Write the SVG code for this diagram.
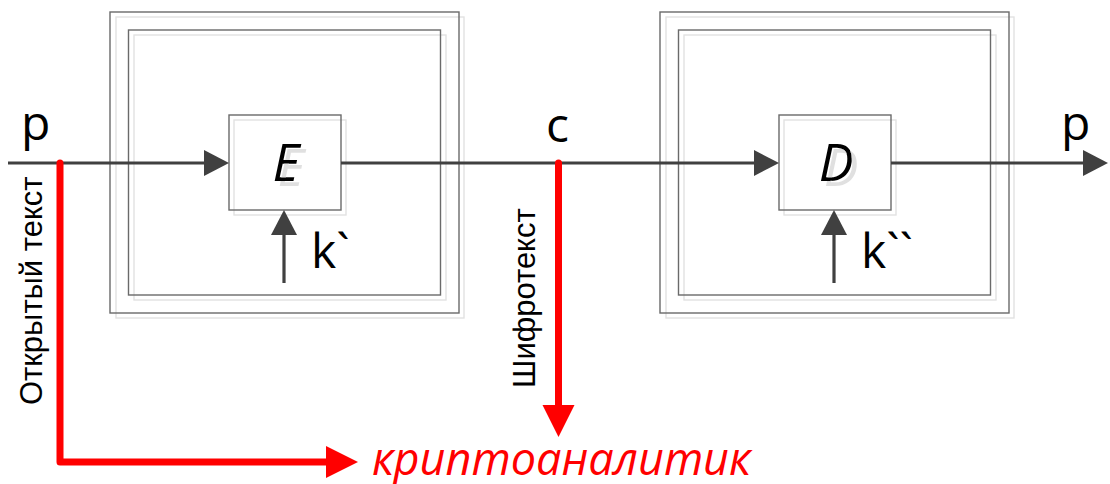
<svg xmlns="http://www.w3.org/2000/svg" width="1110" height="484" viewBox="0 0 1110 484">
  <style>
    .frame { fill: none; stroke: #6a6a6a; stroke-width: 1.4; }
    .shade { fill: none; stroke: #e2e2e2; stroke-width: 1.4; }
    .flow { fill: none; stroke: #404040; stroke-width: 3.2; }
    .leak { fill: none; stroke: #ff0000; stroke-width: 7; stroke-linejoin: round; stroke-linecap: round; }
    .lbl { font-family: "Open Sans", "Liberation Sans", sans-serif; font-size: 48px; fill: #000; }
    .op { font-family: "Open Sans", "Liberation Sans", sans-serif; font-size: 52px; font-style: italic; text-anchor: middle; fill: #000; filter: url(#ghost); }
    .side { font-family: "Liberation Sans", Arial, sans-serif; font-size: 31px; fill: #000; }
    .who { font-family: "Open Sans", "Liberation Sans", sans-serif; font-size: 45px; font-style: italic; fill: #ff0000; }
  </style>
  <defs>
    <!-- pale offset copy behind the operator letters -->
    <filter id="ghost" x="-20%" y="-20%" width="160%" height="160%">
      <feOffset in="SourceAlpha" dx="5" dy="5" result="off"/>
      <feFlood flood-color="#e0e0e0"/>
      <feComposite in2="off" operator="in" result="sh"/>
      <feMerge>
        <feMergeNode in="sh"/>
        <feMergeNode in="SourceGraphic"/>
      </feMerge>
    </filter>
    <marker id="dark" markerUnits="userSpaceOnUse" markerWidth="26" markerHeight="28" viewBox="0 0 26 28" refX="3" refY="13" orient="auto">
      <path d="M0,0 L25,13 L0,26 z" fill="#404040"/>
    </marker>
    <marker id="red" markerUnits="userSpaceOnUse" markerWidth="34" markerHeight="34" viewBox="0 0 34 34" refX="3" refY="16" orient="auto">
      <path d="M0,0 L32,16 L0,32 z" fill="#ff0000"/>
    </marker>
  </defs>

  <!-- encryption unit -->
  <g id="encryptor">
    <rect class="shade" x="116" y="17" width="348" height="301"/>
    <rect class="frame" x="110" y="12" width="349" height="301"/>
    <rect class="shade" x="134" y="35" width="312" height="265"/>
    <rect class="frame" x="128.5" y="30" width="312" height="265"/>
    <rect class="shade" x="234" y="120" width="112" height="95"/>
    <rect class="frame" x="229" y="115" width="112" height="95"/>
    <text class="op" x="286" y="181">E</text>
    <text class="lbl" x="311" y="268">k`</text>
  </g>

  <!-- decryption unit -->
  <g id="decryptor">
    <rect class="shade" x="666" y="17" width="348" height="301"/>
    <rect class="frame" x="660" y="12" width="349" height="301"/>
    <rect class="shade" x="684" y="35" width="312" height="265"/>
    <rect class="frame" x="678.5" y="30" width="312" height="265"/>
    <rect class="shade" x="784" y="120" width="112" height="95"/>
    <rect class="frame" x="779" y="115" width="112" height="95"/>
    <text class="op" x="836" y="181">D</text>
    <text class="lbl" x="861" y="268">k``</text>
  </g>

  <!-- channel labels -->
  <g id="labels">
    <text class="lbl" x="21" y="140">p</text>
    <text class="lbl" x="546" y="142">c</text>
    <text class="lbl" x="1061" y="140">p</text>
    <text class="side" transform="translate(42 405) rotate(-90)">Открытый текст</text>
    <text class="side" transform="translate(535 388) rotate(-90)">Шифротекст</text>
    <text class="who" x="372" y="475">криптоаналитик</text>
  </g>

  <!-- connectors -->
  <g id="connectors">
    <line class="flow" x1="8" y1="163" x2="207" y2="163" marker-end="url(#dark)"/>
    <line class="flow" x1="341" y1="163" x2="757" y2="163" marker-end="url(#dark)"/>
    <line class="flow" x1="891" y1="163" x2="1086" y2="163" marker-end="url(#dark)"/>
    <line class="flow" x1="284" y1="283" x2="284" y2="232" marker-end="url(#dark)"/>
    <line class="flow" x1="834" y1="283" x2="834" y2="232" marker-end="url(#dark)"/>
    <path class="leak" d="M60,163 V462 H329" marker-end="url(#red)"/>
    <path class="leak" d="M558.5,163 V408" marker-end="url(#red)"/>
  </g>
</svg>
